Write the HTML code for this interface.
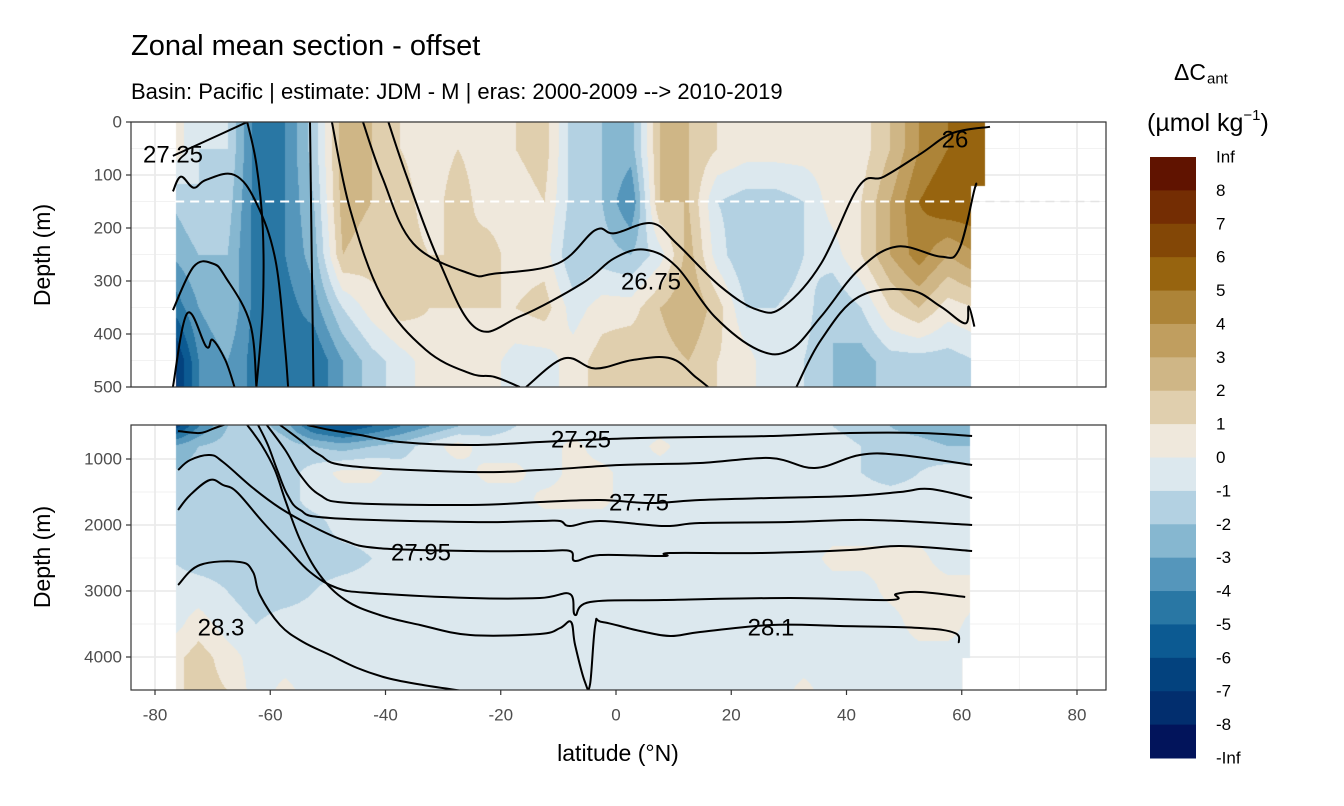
<!DOCTYPE html>
<html><head><meta charset="utf-8">
<style>
html,body{margin:0;padding:0;background:#fff;}
#wrap{position:relative;width:1344px;height:806px;overflow:hidden;font-family:"Liberation Sans",sans-serif;background:#fff;}
canvas{position:absolute;z-index:1;}
#back{position:absolute;left:0;top:0;z-index:0;}
#svg{position:absolute;left:0;top:0;z-index:2;}
</style></head>
<body>
<div id="wrap">
<svg id="back" width="1344" height="806"></svg>
<canvas id="cTop" width="975" height="265" style="left:131px;top:122px"></canvas>
<canvas id="cBot" width="975" height="265" style="left:131px;top:425px"></canvas>
<svg id="svg" width="1344" height="806"></svg>
</div>
<script>
// ---- data ----
const gridLats = [-77.5,-72.5,-67.5,-62.5,-57.5,-52.5,-47.5,-42.5,-37.5,-32.5,-27.5,-22.5,-17.5,-12.5,-7.5,-2.5,2.5,7.5,12.5,17.5,22.5,27.5,32.5,37.5,42.5,47.5,52.5,57.5,62.5];
const topDepths = [50,150,250,350,450];
const topVals = [
 [1,-1,-1,-4.5,-4,-1.5,2.5,2,1,0.5,1,0.5,1,1.5,-1.5,-2,-2.5,2,2,1,0.5,0.5,0.5,0.5,0.5,2,4,5,5.5],
 [-2,-1,-1.5,-4.5,-4,-2,2.5,2,1.5,0.5,1.5,0.5,0.5,1,-1.5,-2,-4,2,2,-1,-1.5,-1.5,-1,0.5,1,3,5,6,6],
 [-3,-2,-2,-4.5,-4,-2.5,2,1.5,1.5,1,1,1.5,0.5,0.5,-2,-1.5,-2,-0.5,2.5,-0.5,-2,-2,-1,-0.5,1,3,4.5,3,4],
 [-5,-3,-2,-4.5,-4.5,-3.5,-1,0.5,1.5,1,1,1,1,1.5,-0.5,0.5,0.5,2,3,1.5,-1,-1,-0.5,-2,-1,1,2,0.5,1],
 [-8,-4,-3,-4.5,-4.5,-5,-3,-1.5,-0.5,0.5,0.5,0.5,-0.5,-0.5,0.5,1.5,2,1.5,2,1,0.5,-1,-1,-2,-2.5,-1.5,-1.5,-1.5,-1]
];
const botDepths = [500,800,1200,1600,2000,2500,3000,3500,4000,4500];
const botVals = [
 [-7,-4,-2,-1.5,-2.5,-5,-6,-5,-4,-3,-2,-1.5,-1,-0.5,-0.5,-0.5,-0.5,-0.5,-0.5,-0.5,-0.5,-1,-1,-1,-1.5,-2,-2.5,-3,-3],
 [-3,-2,-1.5,-1,-1.5,-2,-2.5,-2,-1.5,-0.5,0.5,-0.5,-0.5,-0.5,0.3,-0.5,-0.5,0.3,-0.5,-0.5,-0.5,-0.5,-0.5,-0.5,-1,-1.5,-1.5,-2,-2],
 [-2,-1.5,-1.5,-1,-1.5,-0.5,0.3,0.3,-0.5,-0.5,-0.5,0.3,0.3,-0.5,0.3,0.3,-0.5,-0.5,-0.5,-0.5,-0.5,-0.5,-0.5,-0.5,-1,-1.5,-1,-0.5,-0.5],
 [-1.5,-1.5,-1.5,-1.5,-1.5,-0.5,-0.5,-0.5,-0.5,-0.5,-0.5,-0.5,-0.5,0.3,0.3,0.3,-0.5,-0.5,-0.5,-0.5,-0.5,-0.5,-0.5,-0.5,-0.5,-0.5,-0.5,-0.5,-0.5],
 [-1.5,-1.5,-1.5,-1.5,-1.5,-1.5,-0.5,-0.5,-0.5,-0.5,-0.5,-0.5,-0.5,-0.5,-0.5,-0.5,-0.5,-0.5,-0.5,-0.5,-0.5,-0.5,-0.5,-0.5,-0.5,-0.5,-0.5,-0.5,-0.5],
 [-1,-1.5,-1.5,-1.5,-1.5,-1.5,-1.5,-1,-0.5,-0.5,-0.5,-0.5,-0.5,-0.5,-0.5,-0.5,-0.5,-0.5,-0.5,-0.5,-0.5,-0.5,-0.5,0.3,0.3,0.3,0.3,-0.5,-0.5],
 [-0.5,-0.5,-1,-1.5,-1.5,-1,-0.5,-0.5,-0.5,-0.5,-0.5,-0.5,-0.5,-0.5,-0.5,-0.5,-0.5,-0.5,-0.5,-0.5,-0.5,-0.5,-0.5,-0.5,-0.5,0.3,0.5,0.5,0.5],
 [-0.5,0.5,-0.5,-1,-0.5,-0.5,-0.5,-0.5,-0.5,-0.5,-0.5,-0.5,-0.5,-0.5,-0.5,-0.5,-0.5,-0.5,-0.5,-0.5,-0.5,-0.5,-0.5,-0.5,-0.5,-0.5,0.5,0.5,-0.5],
 [0.5,1.5,0.5,-0.5,-0.5,-0.5,-0.5,-0.5,-0.5,-0.5,-0.5,-0.5,-0.5,-0.5,-0.5,-0.5,-0.5,-0.5,-0.5,-0.5,-0.5,-0.5,-0.5,-0.5,-0.5,-0.5,-0.5,-0.5,-0.5],
 [0.5,1.5,1,-0.5,0.3,-0.5,-0.5,-0.5,-0.5,-0.5,-0.5,-0.5,-0.5,-0.5,-0.5,-0.5,-0.5,-0.5,-0.5,-0.5,-0.5,-0.5,0.3,-0.5,-0.5,-0.5,-0.5,-0.5,-0.5]
];
const binColors = ["#02145b","#022e6e","#03427e","#0c5a92","#2977a4","#5596bb","#86b7d0","#b3d1e2","#dce8ee","#efe8dc","#e0cfae","#cfb686","#c09e5f","#ad8438","#97640f","#834706","#742d03","#601300"];
const legendLabels = ["Inf","8","7","6","5","4","3","2","1","0","-1","-2","-3","-4","-5","-6","-7","-8","-Inf"];
const xTicks = [-80,-60,-40,-20,0,20,40,60,80];
const yTicksTop = [0,100,200,300,400,500];
const yTicksBot = [1000,2000,3000,4000];

// top contour lines (lat, depth)
const tT0Lat=[-76.9,-70,-64], tT0Dep=[64,30,0];
const tT1Lat=[-76.9,-75.5,-73.3,-71.1,-66.2,-62.4,-59.1,-57.5,-56.9], tT1Dep=[131,103,124,109,100,153,260,418,500];
const tV1Lat=[-64,-62.4,-61.3,-61.3,-62.4], tV1Dep=[0,80,200,350,500];
const tV2Lat=[-53.1,-52.8,-52.5], tV2Dep=[0,250,500];
const tL1Lat=[-76.9,-73.3,-70,-67.8,-63.5,-62.4], tL1Dep=[355,273,267,292,380,500];
const tL2Lat=[-76.9,-74.4,-71.1,-70,-67.8,-66.2], tL2Dep=[500,361,424,411,449,500];
const tU3Lat=[-49.3,-46.1,-40.6,-33,-25.4,-21.1,-16.7], tU3Dep=[0,166,330,430,474,481,500];
const tU1Lat=[-43.9,-40.6,-35.2,-25.4,-21.1,-10.1,-3.6,-0.3,6.2,10.5,18.2,24.7,29.1,35.6,42.1,46.5,53,58.4,64.9], tU1Dep=[0,103,229,286,286,267,204,210,191,229,311,355,348,267,122,103,59,21,9];
const tU2Lat=[-39.5,-36.3,-30.8,-24.3,-16.7,-5.8,-0.3,5.1,10.5,17.1,24.7,30.2,35.6,42.1,48.7,56.3,59.5,62.2,62.5], tU2Dep=[0,103,260,389,367,304,257,241,273,367,430,430,367,279,235,254,241,128,120];
const tDLat=[-15.6,-9,-3.6,2.9,9.5,13.8,16], tDDep=[500,446,465,449,446,481,500];
const tU4Lat=[31.3,35.6,42.1,50.8,56.3,60.6,61.2,62.2], tU4Dep=[500,411,330,317,348,380,348,386];

// bottom contour lines
const bALat=[-76,-72.2,-69.6,-67], bADep=[576,606,530,450];
const bBLat=[-76,-73.9,-70.5,-68.2,-63,-58.3,-53.1,-47.4,-41.5,-25.3,-13.2,-8,-7.1,-2.8,8.3,9.4,25,40.6,49.3,61.8];
const bBDep=[1167,1015,939,1045,1439,1742,2000,2227,2348,2394,2394,2394,2545,2454,2470,2424,2424,2379,2318,2394];
const bCLat=[-76,-73.9,-70.5,-68.2,-65.8,-61.3,-57.1,-53.1,-48.4,-42.7,-25.3,-13.2,-8,-7.1,-4.5,8.3,30.2,47.5,48.6,52.8,60.6];
const bCDep=[1773,1545,1318,1394,1500,1955,2348,2712,2954,3030,3106,3106,3045,3363,3167,3136,3106,3136,3045,3015,3091];
const bDLat=[-76,-72.2,-65.3,-63,-61.8,-58.3,-54.3,-49.6,-44.9,-39.7,-33.5,-25.3];
const bDDep=[2909,2606,2560,2712,3061,3515,3772,3969,4166,4318,4424,4530];
const bELat=[-64,-61.5,-59.2,-57.4,-54.8,-51.4,-47,-41,-34,-25.3,-13.2,-9.7,-7.8,-7.1,-5.4,-4.5,-3.6,-2.4,4.2,9.4,14.6,26.9,38.9,52.8,58.8,59.5];
const bEDep=[485,788,1167,1621,2227,2757,3136,3363,3515,3666,3651,3560,3469,3818,4378,4409,3515,3469,3606,3682,3621,3515,3530,3560,3636,3788];
const bFLat=[-62.1,-60.4,-58.8,-57,-54.8,-49.6,-25.3,-13.2,-9.7,-8,-2.8,8.3,14.6,30.2,44.1,61.8];
const bFDep=[485,788,1167,1545,1773,1894,1955,1939,1939,2015,1939,2015,1970,1955,1924,2000];
const bGLat=[-60.6,-57.4,-54.8,-51.4,-46.2,-25.3,-13.2,-2.8,5.9,14.6,26.7,40.6,49.3,54.5,61.8];
const bGDep=[485,864,1242,1545,1667,1697,1652,1621,1667,1621,1591,1561,1500,1455,1591];
const bHLat=[-58.3,-54.8,-51.4,-46.2,-25.3,-13.2,0.7,14.6,26.7,34.5,42.3,49.3,61.8];
const bHDep=[485,712,939,1106,1197,1167,1091,1061,985,1136,939,939,1091];
const bILat=[-53.6,-49.6,-44.4,-37.5,-25.3,-13.2,-5.7,4.2,14.6,26.7,40.6,52.8,61.8];
const bIDep=[485,561,636,742,788,742,712,682,667,652,606,606,652];

// ---- scales ----
const xS = lat => 616 + lat*5.7625;
const yTop = d => 122 + d*0.53;
const yBot = d => 459 + (d-1000)*0.066;

function sample(vals, depths, lat, d){
  let fi = (lat - gridLats[0]) / 5; fi = Math.max(0, Math.min(gridLats.length-1, fi));
  let j = 0; while (j < depths.length-2 && d > depths[j+1]) j++;
  let fr = (d - depths[j])/(depths[j+1]-depths[j]); fr = Math.max(0, Math.min(1, fr));
  const i0 = Math.floor(fi), i1 = Math.min(gridLats.length-1, i0+1), fx = fi - i0;
  const a = vals[j][i0]*(1-fx) + vals[j][i1]*fx;
  const b = vals[j+1][i0]*(1-fx) + vals[j+1][i1]*fx;
  return a*(1-fr) + b*fr;
}
function binIdx(v){ let k = Math.floor(v) + 9; return Math.max(0, Math.min(17, k)); }
function hex(c){ return [parseInt(c.substr(1,2),16),parseInt(c.substr(3,2),16),parseInt(c.substr(5,2),16)]; }
const rgb = binColors.map(hex);

function paint(id, vals, depths, inv, maxLatFn, minLat){
  const cv = document.getElementById(id), ctx = cv.getContext('2d');
  const img = ctx.createImageData(975,265);
  for (let py=0; py<265; py++){
    const d = inv(py);
    for (let px=0; px<975; px++){
      const lat = (px + 131 - 616)/5.7625;
      const o = (py*975+px)*4;
      if (lat < minLat || lat > maxLatFn(d)) { img.data[o+3]=0; continue; }
      const c = rgb[binIdx(sample(vals, depths, lat, d))];
      img.data[o]=c[0]; img.data[o+1]=c[1]; img.data[o+2]=c[2]; img.data[o+3]=255;
    }
  }
  ctx.putImageData(img,0,0);
}
paint('cTop', topVals, topDepths, py => py/0.53, d => d < 120 ? 64 : 61.5, -76.5);
paint('cBot', botVals, botDepths, py => 1000 + (py + 425 - 459)/0.066, d => d > 4000 ? 60 : 61.3, -76.5);

// ---- svg ----
const NS = "http://www.w3.org/2000/svg";
const svg = document.getElementById('svg');
const back = document.getElementById('back');
function mk(tag, attrs, parent){ const e = document.createElementNS(NS, tag); for (const k in attrs) e.setAttribute(k, attrs[k]); (parent||svg).appendChild(e); return e; }
function txt(s, attrs, parent){ const e = mk('text', attrs, parent); e.textContent = s; return e; }

function gridPanel(y0,y1,yFn,ticks,minors){
  minors.forEach(t=>{ const l = mk('line',{x1:131,x2:1106,y1:yFn(t),y2:yFn(t),stroke:'#f2f2f2','stroke-width':1},back);   });
  for (let g=-70; g<=70; g+=20){ const l = mk('line',{x1:xS(g),x2:xS(g),y1:y0,y2:y1,stroke:'#f2f2f2','stroke-width':1},back);   }
  ticks.forEach(t=>{ const l = mk('line',{x1:131,x2:1106,y1:yFn(t),y2:yFn(t),stroke:'#ebebeb','stroke-width':1.8},back);   });
  xTicks.forEach(t=>{ const l = mk('line',{x1:xS(t),x2:xS(t),y1:y0,y2:y1,stroke:'#ebebeb','stroke-width':1.8},back);   });
}
gridPanel(122,387,yTop,yTicksTop,[50,150,250,350,450]);
gridPanel(425,690,yBot,yTicksBot,[1500,2500,3500]);

// dashed line at 150 m
const dash = mk('line',{x1:xS(-76.5),x2:xS(61.5),y1:yTop(150),y2:yTop(150),stroke:'#ffffff','stroke-width':2,'stroke-dasharray':'9,6'});


const dash2 = mk('line',{x1:xS(61.5),x2:1106,y1:yTop(150),y2:yTop(150),stroke:'#e4e4e4','stroke-width':1.5,'stroke-dasharray':'9,6'},back);



// clip paths
const defs = mk('defs',{});
const cp1 = mk('clipPath',{id:'clipTop'},defs); mk('rect',{x:131,y:122,width:975,height:265},cp1);
const cp2 = mk('clipPath',{id:'clipBot'},defs); mk('rect',{x:131,y:425,width:975,height:265},cp2);
const gTop = mk('g',{'clip-path':'url(#clipTop)'});  
const gBot = mk('g',{'clip-path':'url(#clipBot)'});  

function drawLine(lats, deps, yFn, g, name){
  const P = lats.map((la,i)=>[xS(la), yFn(deps[i])]);
  let d = 'M' + P[0][0].toFixed(1) + ',' + P[0][1].toFixed(1);
  const T = 0.18;
  for (let i=0;i<P.length-1;i++){
    const p0 = P[Math.max(0,i-1)], p1 = P[i], p2 = P[i+1], p3 = P[Math.min(P.length-1,i+2)];
    const c1 = [p1[0]+(p2[0]-p0[0])*T, p1[1]+(p2[1]-p0[1])*T];
    const c2 = [p2[0]-(p3[0]-p1[0])*T, p2[1]-(p3[1]-p1[1])*T];
    d += ' C' + c1[0].toFixed(1)+','+c1[1].toFixed(1)+' '+c2[0].toFixed(1)+','+c2[1].toFixed(1)+' '+p2[0].toFixed(1)+','+p2[1].toFixed(1);
  }
  const p = mk('path',{d:d,fill:'none',stroke:'#000','stroke-width':2,'stroke-linejoin':'round'},g);
  
  
}
[[tT0Lat,tT0Dep],[tT1Lat,tT1Dep],[tV1Lat,tV1Dep],[tV2Lat,tV2Dep],[tL1Lat,tL1Dep],[tL2Lat,tL2Dep],[tU3Lat,tU3Dep],[tU1Lat,tU1Dep],[tU2Lat,tU2Dep],[tDLat,tDDep],[tU4Lat,tU4Dep]].forEach(p=>drawLine(p[0],p[1],yTop,gTop,'isopycnal-line'));
[[bALat,bADep],[bBLat,bBDep],[bCLat,bCDep],[bDLat,bDDep],[bELat,bEDep],[bFLat,bFDep],[bGLat,bGDep],[bHLat,bHDep],[bILat,bIDep]].forEach(p=>drawLine(p[0],p[1],yBot,gBot,'isopycnal-line'));

// contour labels
function clab(s,x,y){ const t = txt(s,{x:x,y:y,'font-size':24,'text-anchor':'middle','dominant-baseline':'central',fill:'#000'});   }
clab('27.25',173,155); clab('26',955,140); clab('26.75',651,282);
clab('27.25',581,440); clab('27.75',639,503); clab('27.95',421,553); clab('28.3',221,628); clab('28.1',771,628);

// panel borders
['top','bottom'].forEach((n,i)=>{ const r = mk('rect',{x:131,y:i?425:122,width:975,height:265,fill:'none',stroke:'#333','stroke-width':1.2});   });

// y ticks
function yAxis(ticks,yFn,name){
  const g = mk('g',{});  
  ticks.forEach(t=>{
    mk('line',{x1:126,x2:131,y1:yFn(t),y2:yFn(t),stroke:'#333','stroke-width':1.2},g);
    const l = txt(String(t),{x:122,y:yFn(t),'font-size':17,fill:'#4d4d4d','text-anchor':'end','dominant-baseline':'central'},g);
     
  });
}
yAxis(yTicksTop,yTop,'top-y-axis'); yAxis(yTicksBot,yBot,'bottom-y-axis');
// x ticks
const gx = mk('g',{});  
xTicks.forEach(t=>{
  mk('line',{x1:xS(t),x2:xS(t),y1:690,y2:695,stroke:'#333','stroke-width':1.2},gx);
  const l = txt(String(t),{x:xS(t),y:715,'font-size':17,fill:'#4d4d4d','text-anchor':'middle','dominant-baseline':'central'},gx);
   
});

// titles
let t;
t = txt('Zonal mean section - offset',{x:131,y:55,'font-size':29,fill:'#000'});  
t = txt('Basin: Pacific | estimate: JDM - M | eras: 2000-2009 --> 2010-2019',{x:131,y:99,'font-size':22,fill:'#000'});  
t = txt('latitude (°N)',{x:618,y:753,'font-size':23,fill:'#000','text-anchor':'middle','dominant-baseline':'central'});  
t = txt('Depth (m)',{x:0,y:0,'font-size':23,fill:'#000','text-anchor':'middle','dominant-baseline':'central',transform:'translate(42,255) rotate(-90)'});  
t = txt('Depth (m)',{x:0,y:0,'font-size':23,fill:'#000','text-anchor':'middle','dominant-baseline':'central',transform:'translate(42,557) rotate(-90)'});  

// legend
const lg = mk('g',{});  
t = txt('ΔC',{x:1190,y:72,'font-size':23,fill:'#000','text-anchor':'middle','dominant-baseline':'central'},lg);  
t = txt('ant',{x:1207,y:79,'font-size':15,fill:'#000','text-anchor':'start','dominant-baseline':'central'},lg);  
const unit = mk('text',{x:1147,y:131,'font-size':25,fill:'#000'},lg);


const u1 = mk('tspan',{},unit); u1.textContent = '(µmol kg';
const u2 = mk('tspan',{'font-size':15,dy:-11},unit); u2.textContent = '−1';
const u3 = mk('tspan',{dy:11},unit); u3.textContent = ')';
const lgTop = 157, lgH = 601/18;
for (let k=0;k<18;k++){
  const r = mk('rect',{x:1150,y:lgTop+k*lgH,width:46,height:lgH+0.5,fill:binColors[17-k]},lg);
   
}
legendLabels.forEach((s,k)=>{
  const l = txt(s,{x:1216,y:lgTop+k*lgH,'font-size':17,fill:'#000','dominant-baseline':'central'},lg);
   
});
</script>
</body></html>
